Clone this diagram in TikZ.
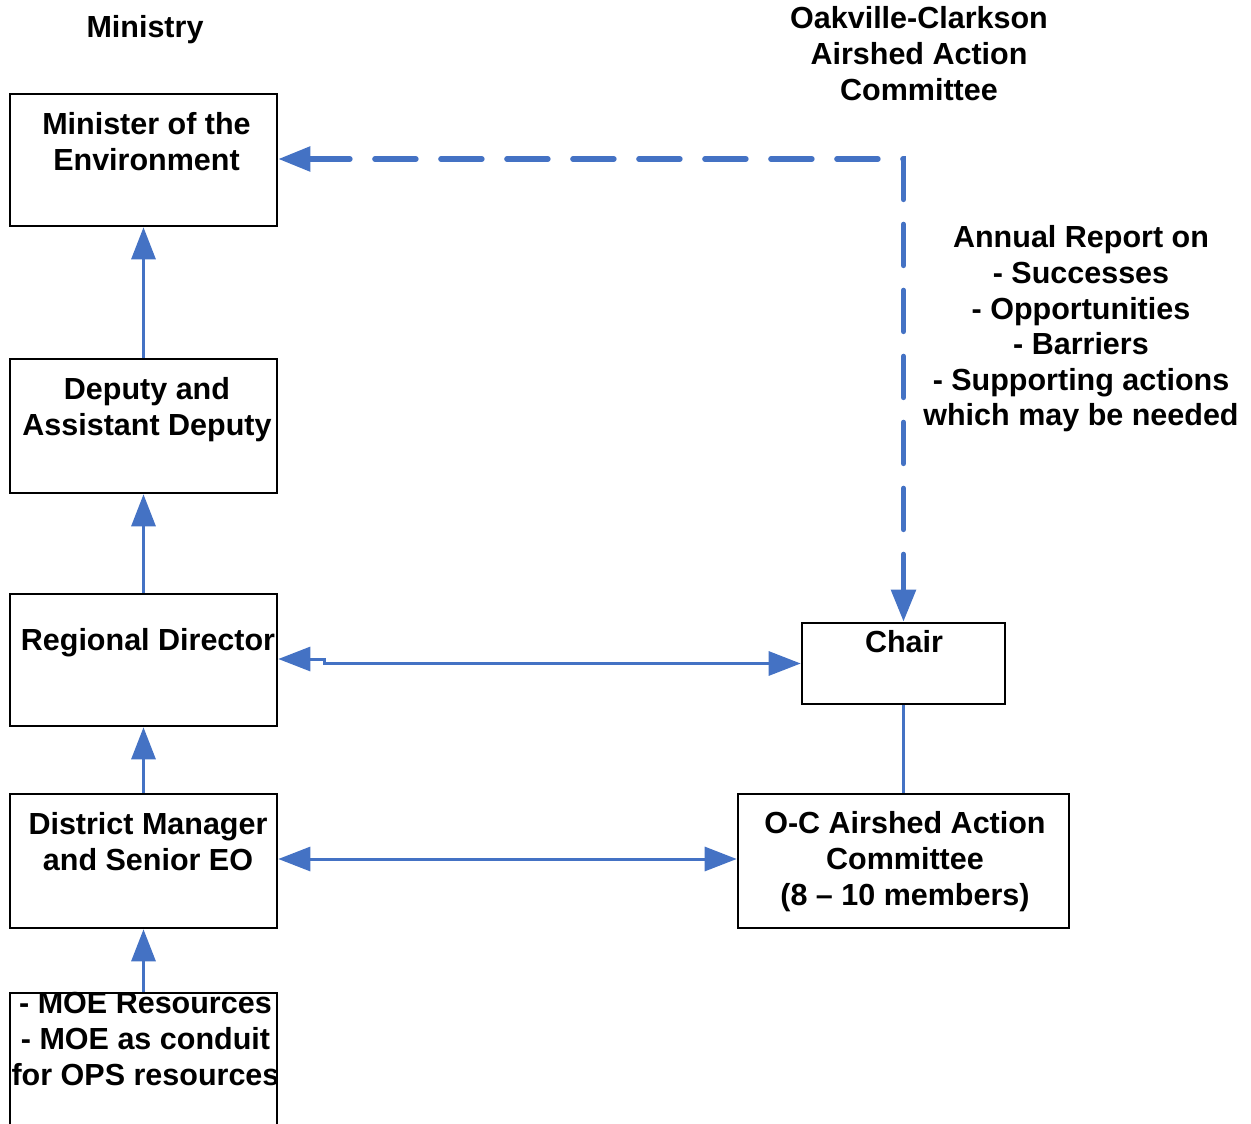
\documentclass[tikz,border=0pt]{standalone}
\usepackage{fontspec}
\setmainfont{Liberation Sans}
\usetikzlibrary{arrows.meta}
\definecolor{conn}{RGB}{68,114,196}
\tikzset{
  box/.style={draw=black, line width=2.6pt, minimum width=267pt, inner sep=0pt},
  txt/.style={anchor=north, inner sep=0pt, align=center, font=\bfseries\fontsize{30.5}{36}\selectfont},
  tip/.style={-{Triangle[length=32pt,width=24pt]}},
  both/.style={{Triangle[length=32pt,width=24pt]}-{Triangle[length=32pt,width=24pt]}},
  solidc/.style={draw=conn, line width=3pt},
  dashc/.style={draw=conn, line width=5.5pt, line cap=round, dash pattern=on 41pt off 25pt, line join=miter}
}
\begin{document}
\begin{tikzpicture}[x=1pt,y=-1pt]
\useasboundingbox (0,0) rectangle (1251,1124);
% boxes
\node[box, minimum height=132pt] (minister) at (143.5,160) {};
\node[box, minimum height=134pt] (deputy) at (143.5,426) {};
\node[box, minimum height=132pt] (regional) at (143.5,660) {};
\node[box, minimum height=134pt] (district) at (143.5,861) {};
\node[box, minimum height=170pt] (moe) at (143.5,1078) {};
\node[box, minimum width=203pt, minimum height=81pt] (chair) at (903.5,663.5) {};
\node[box, minimum width=331pt, minimum height=134pt] (oc) at (903.5,861) {};
% texts
\node[txt] (ministry) at (145,15.5) {Ministry};
\node[txt] (occ) at (919,6.5) {Oakville-Clarkson\\Airshed Action\\Committee};
\node[txt] (ministerT) at (146.5,112.5) {Minister of the\\Environment};
\node[txt] (deputyT) at (147,377.5) {Deputy and\\Assistant Deputy};
\node[txt] (regionalT) at (148,628.5) {Regional Director};
\node[txt] (districtT) at (148,812.5) {District Manager\\and Senior EO};
\node[txt] (moeT) at (145.5,991.5) {- MOE Resources\\- MOE as conduit\\for OPS resources};
\node[txt] (chairT) at (904,630.5) {Chair};
\node[txt] (ocT) at (905,811.5) {O-C Airshed Action\\Committee\\(8 -- 10 members)};
\node[txt, font=\bfseries\fontsize{30.5}{35.6}\selectfont] (report) at (1081,225.5) {Annual Report on\\- Successes\\- Opportunities\\- Barriers\\- Supporting actions\\which may be needed};
% connectors
\draw[solidc, tip] (deputy.north) -- (minister.south);
\draw[solidc, tip] (regional.north) -- (deputy.south);
\draw[solidc, tip] (district.north) -- (regional.south);
\draw[solidc, tip] (moe.north) -- (district.south);
\coordinate (jog) at (324,659);
\draw[solidc, both] ([yshift=1pt]regional.east) -- (jog) -- (jog |- chair.west) -- (chair.west);
\draw[solidc, both] ([yshift=2pt]district.east) -- ([yshift=2pt]oc.west);
\draw[solidc] (chair.south) -- (oc.north);
\coordinate (corner) at (chair.north |- minister.east);
\draw[dashc, both] ([yshift=1pt]minister.east) -- ([yshift=1pt]corner) -- (chair.north);
\end{tikzpicture}
\end{document}
